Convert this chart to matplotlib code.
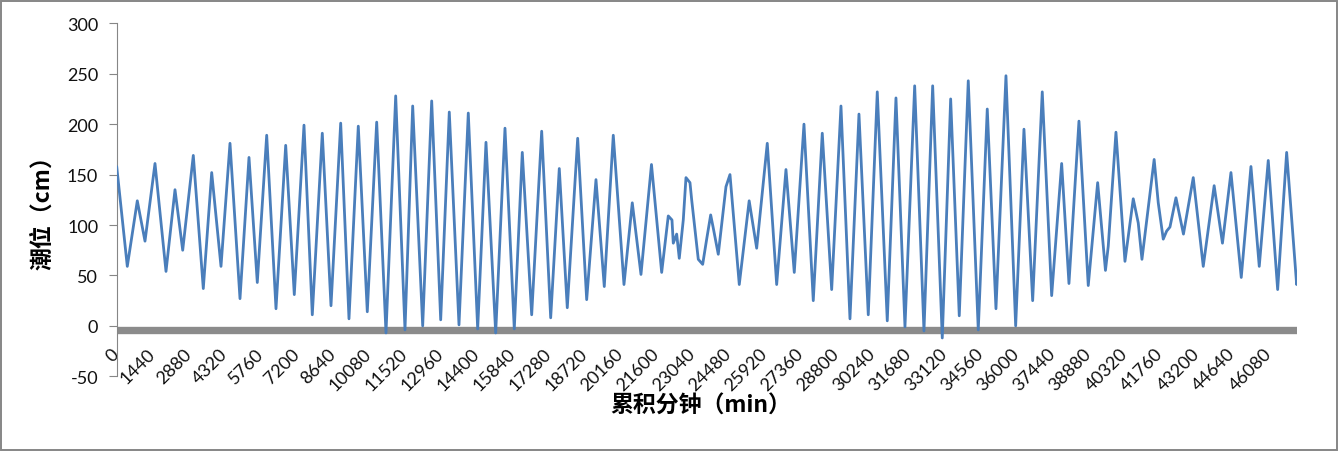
import matplotlib
matplotlib.use("Agg")
import matplotlib.pyplot as plt
from matplotlib.patches import Rectangle
import numpy as np

# ---- data ----
minutes = [0, 424, 824, 1132, 1532, 1972, 2332, 2640, 3064, 3464, 3800, 4172, 4532, 4932,
           5292, 5624, 6000, 6372, 6760, 7104, 7492, 7824, 8224, 8572, 8960, 9292, 9664,
           10024, 10400, 10772, 11160, 11532, 11840, 12240, 12600, 12960, 13304, 13692,
           14064, 14440, 14772, 15160, 15532, 15904, 16224, 16600, 17000, 17360, 17704,
           18024, 18440, 18800, 19172, 19504, 19864, 20292, 20624, 20972, 21392, 21800,
           22064, 22212, 22264, 22400, 22504, 22664, 22772, 22932, 23000, 23264, 23440,
           23600, 23760, 23864, 24064, 24240, 24372, 24532, 24732, 24904, 25300, 25600,
           26024, 26400, 26772, 27104, 27492, 27864, 28224, 28600, 28972, 29332, 29692,
           30064, 30424, 30824, 31172, 31532, 31920, 32292, 32640, 33024, 33360, 33704,
           34064, 34464, 34824, 35172, 35572, 35960, 36292, 36640, 37024, 37400, 37800,
           38092, 38492, 38864, 39240, 39552, 39664, 39972, 40332, 40664, 40864, 41012,
           41500, 41664, 41864, 42000, 42132, 42372, 42672, 43064, 43464, 43900, 44232,
           44572, 44984, 45372, 45704, 46064, 46440, 46800, 47200, 47252]
tide_cm = [158, 59, 124, 84, 161, 54, 135, 75, 169, 37, 152, 59, 181, 27,
           167, 43, 189, 17, 179, 31, 199, 11, 191, 20, 201, 7, 198,
           14, 202, -7, 228, -4, 218, 0, 223, 6, 212, 1,
           211, -3, 182, -7, 196, -3, 172, 11, 193, 8, 156,
           18, 186, 26, 145, 39, 189, 41, 122, 51, 160, 53,
           109, 105, 82, 91, 67, 105, 147, 142, 125, 66, 61,
           86, 110, 97, 71, 109, 138, 150, 92, 41, 124, 77,
           181, 41, 155, 53, 200, 25, 191, 36, 218, 7, 210,
           11, 232, 5, 226, -1, 238, -5, 238, -12, 225, 10,
           243, -4, 215, 17, 248, 0, 195, 25, 232, 30, 161,
           42, 203, 40, 142, 55, 79, 192, 64, 126, 102, 66,
           165, 122, 86, 94, 98, 127, 91, 147, 59, 139, 82,
           152, 48, 158, 59, 164, 36, 172, 41, 49]

x_ticks = list(range(0, 46081, 1440))
x_tick_labels = [str(v) for v in x_ticks]
y_ticks = [-50, 0, 50, 100, 150, 200, 250, 300]
x_title = "累积分钟（min）"
y_title = "潮位（cm）"

# ---- figure ----
W, H = 1340, 452
fig = plt.figure(figsize=(W / 100, H / 100), dpi=100)
fig.patch.set_facecolor("white")

left_px, right_px, top_px, bottom_px = 116.7, 1297.4, 24.3, 377.3
ax = fig.add_axes([left_px / W, 1 - bottom_px / H,
                   (right_px - left_px) / W, (bottom_px - top_px) / H])

grey = "#868686"
ax.axhline(-3.6, color="#8B8B8B", lw=5.3, zorder=1, solid_capstyle="butt")
ax.plot(minutes, tide_cm, color="#4A7EBB", lw=2.0, zorder=3, clip_on=True,
        solid_joinstyle="round", solid_capstyle="round")

ax.set_xlim(0, 47230)
ax.set_ylim(-50, 300)

for s in ("top", "right"):
    ax.spines[s].set_visible(False)
ax.spines["bottom"].set_position(("data", 0))
ax.spines["bottom"].set_color("none")
ax.spines["left"].set_color(grey)
ax.spines["left"].set_linewidth(0.8)

ax.set_yticks(y_ticks)
ax.set_yticklabels([str(v) for v in y_ticks], fontfamily="Lato", fontsize=13)
ax.tick_params(axis="y", direction="out", length=5.8, width=0.8, color=grey,
               pad=7.5, labelcolor="#111111")

ax.set_xticks(x_ticks)
ax.set_xticklabels(x_tick_labels, rotation=45, ha="right", va="center",
                   rotation_mode="anchor", fontfamily="Lato", fontsize=13)
ax.tick_params(axis="x", length=0, pad=18, labelcolor="#111111")

fig.text(42.5 / W, 1 - 206.7 / H, y_title, rotation=90, ha="center", va="center",
         fontsize=16.5, fontweight="bold", family=["Noto Sans CJK SC", "DejaVu Sans"])
fig.text(701 / W, 1 - 406.7 / H, x_title, ha="center", va="center",
         fontsize=16.5, fontweight="bold", family=["Noto Sans CJK SC", "DejaVu Sans"])

fig.add_artist(Rectangle((1 / W, 1 / H), (1336.5 - 1) / W, (450 - 1) / H,
                         transform=fig.transFigure, fill=False,
                         edgecolor=grey, lw=1.4))

fig.savefig("out.png", dpi=100)
